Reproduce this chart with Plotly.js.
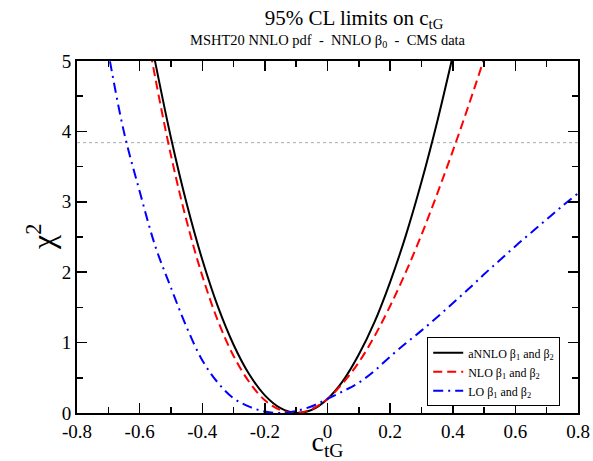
<!DOCTYPE html>
<html>
<head>
<meta charset="utf-8">
<script src="https://cdn.plot.ly/plotly-3.0.1.min.js"></script>
<style>html,body{margin:0;padding:0;background:#fff;}#chart{width:593px;height:461px;}</style>
</head>
<body>
<div id="chart"></div>
<script>
// aNNLO beta1 and beta2
const xANNLO = [-0.57, -0.55, -0.50, -0.45, -0.40, -0.35, -0.30, -0.25, -0.20, -0.15, -0.10, -0.05, 0.00, 0.05, 0.10, 0.15, 0.20, 0.25, 0.30, 0.35, 0.40, 0.42];
const yANNLO = [5.44, 4.98, 3.91, 2.98, 2.18, 1.51, 0.97, 0.55, 0.25, 0.068, 0.0, 0.045, 0.20, 0.46, 0.83, 1.29, 1.86, 2.52, 3.28, 4.13, 5.07, 5.46];
// NLO beta1 and beta2
const xNLO = [-0.58, -0.55, -0.50, -0.45, -0.40, -0.35, -0.30, -0.25, -0.20, -0.15, -0.10, -0.05, 0.00, 0.05, 0.10, 0.15, 0.20, 0.25, 0.30, 0.35, 0.40, 0.45, 0.50, 0.52];
const yNLO = [5.50, 4.76, 3.66, 2.73, 1.95, 1.31, 0.81, 0.44, 0.18, 0.041, 0.0, 0.056, 0.20, 0.43, 0.72, 1.09, 1.52, 2.00, 2.53, 3.11, 3.72, 4.36, 5.03, 5.30];
// LO beta1 and beta2
const xLO = [-0.72, -0.70, -0.65, -0.60, -0.55, -0.50, -0.45, -0.40, -0.35, -0.30, -0.25, -0.20, -0.15, -0.10, -0.05, 0.00, 0.05, 0.10, 0.15, 0.20, 0.25, 0.30, 0.35, 0.40, 0.45, 0.50, 0.55, 0.60, 0.65, 0.70, 0.75, 0.80];
const yLO = [5.61, 5.12, 3.99, 3.15, 2.37, 1.78, 1.22, 0.75, 0.43, 0.21, 0.09, 0.02, 0.0, 0.03, 0.096, 0.20, 0.31, 0.43, 0.60, 0.80, 0.99, 1.17, 1.36, 1.56, 1.76, 1.97, 2.17, 2.37, 2.56, 2.75, 2.94, 3.12];

const seriesNames = ['aNNLO β<sub>1</sub> and β<sub>2</sub>', 'NLO β<sub>1</sub> and β<sub>2</sub>', 'LO β<sub>1</sub> and β<sub>2</sub>'];
const clLimit = 3.84;

const xTickVals = [-0.8, -0.6, -0.4, -0.2, 0, 0.2, 0.4, 0.6, 0.8];
const xTickText = ['-0.8', '-0.6', '-0.4', '-0.2', '0', '0.2', '0.4', '0.6', '0.8'];
const yTickVals = [0, 1, 2, 3, 4, 5];
const yTickText = ['0', '1', '2', '3', '4', '5'];

const serif = 'Liberation Serif';

const traces = [
  {x: xANNLO, y: yANNLO, name: seriesNames[0], mode: 'lines',
   line: {color: '#000000', width: 2, shape: 'spline', smoothing: 1}},
  {x: xNLO, y: yNLO, name: seriesNames[1], mode: 'lines',
   line: {color: '#ff0000', width: 2, dash: '9px,5px', shape: 'spline', smoothing: 1}},
  {x: xLO, y: yLO, name: seriesNames[2], mode: 'lines',
   line: {color: '#0000ff', width: 2, dash: '10px,5px,2px,5px', shape: 'spline', smoothing: 1}}
];

const axisCommon = {
  showgrid: false, zeroline: false, showline: true, linecolor: '#000', linewidth: 2,
  mirror: 'ticks', ticks: 'inside', ticklen: 10, tickwidth: 1.5, tickcolor: '#000',
  tickfont: {family: serif, size: 19, color: '#000'}
};

const layout = {
  width: 593, height: 461,
  margin: {l: 77, r: 15, t: 61, b: 48},
  paper_bgcolor: '#fff', plot_bgcolor: '#fff',
  font: {family: serif, color: '#000'},
  showlegend: true,
  title: {text: '95% CL limits on c<sub>tG</sub>', font: {family: serif, size: 21, color: '#000'},
          x: 0.553, xanchor: 'center', y: 0.962, yanchor: 'middle', xref: 'paper'},
  xaxis: Object.assign({}, axisCommon, {
    range: [-0.8, 0.8], tickvals: xTickVals, ticktext: xTickText,
    minor: {dtick: 0.1, tick0: 0, ticks: 'inside', ticklen: 6, tickwidth: 1.5, tickcolor: '#000', showgrid: false},
    title: {text: 'c<sub>tG</sub>', font: {family: serif, size: 28, color: '#000'}, standoff: 2}
  }),
  yaxis: Object.assign({}, axisCommon, {
    range: [0, 5], tickvals: yTickVals, ticktext: yTickText,
    minor: {dtick: 0.5, tick0: 0, ticks: 'inside', ticklen: 6, tickwidth: 1.5, tickcolor: '#000', showgrid: false}
  }),
  legend: {x: 0.699, y: 0.215, xanchor: 'left', yanchor: 'top',
           bgcolor: '#fff', bordercolor: '#000', borderwidth: 1,
           font: {family: serif, size: 12, color: '#000'}, itemwidth: 30, tracegroupgap: 0},
  shapes: [{type: 'line', xref: 'paper', x0: 0, x1: 1, yref: 'y', y0: clLimit, y1: clLimit,
            line: {color: '#aaaaaa', width: 1, dash: 'dot'}, layer: 'below'}],
  annotations: [
    {text: 'MSHT20 NNLO pdf  -  NNLO β<sub>0</sub>  -  CMS data', xref: 'paper', yref: 'paper',
     x: 0.5, y: 1.058, xanchor: 'center', yanchor: 'middle', showarrow: false,
     font: {family: serif, size: 14.5, color: '#000'}},
    {text: 'χ<sup>2</sup>', xref: 'paper', yref: 'paper', x: -0.072, y: 0.5,
     xanchor: 'center', yanchor: 'middle', textangle: -90, showarrow: false,
     font: {family: serif, size: 32, color: '#000'}}
  ]
};

Plotly.newPlot('chart', traces, layout, {displayModeBar: false, staticPlot: true});
</script>
</body>
</html>
